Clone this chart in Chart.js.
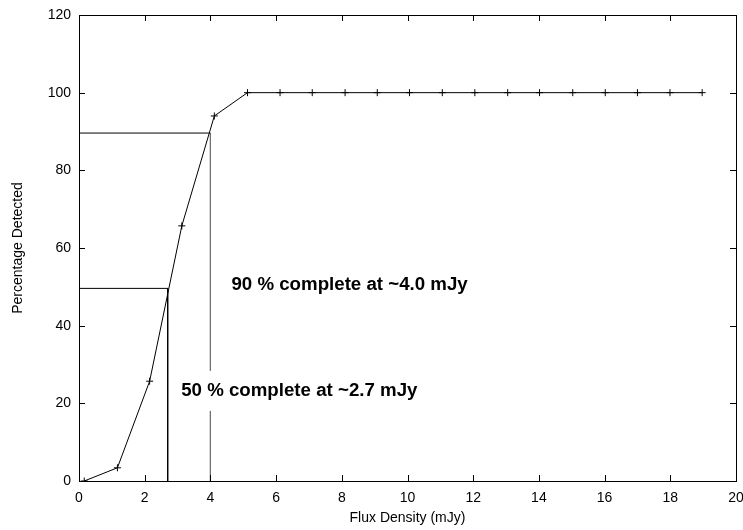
<!DOCTYPE html>
<html><head><meta charset="utf-8">
<script src="https://cdn.jsdelivr.net/npm/chart.js@4/dist/chart.umd.min.js"></script>
<style>html,body{margin:0;padding:0;background:#fff;overflow:hidden}</style>
</head><body>
<canvas id="c" width="743" height="530"></canvas>
<script>
// ---- data ----
const fluxDensity = [0.16, 1.17, 2.15, 3.13, 4.12, 5.13, 6.12, 7.10, 8.10, 9.08, 10.06, 11.06, 12.05, 13.05, 14.02, 15.03, 16.02, 17.00, 17.99, 18.97];
const percentDetected = [0, 3.4, 25.7, 65.7, 94.0, 100, 100, 100, 100, 100, 100, 100, 100, 100, 100, 100, 100, 100, 100, 100];
const xTickValues = [0, 2, 4, 6, 8, 10, 12, 14, 16, 18, 20];
const yTickValues = [0, 20, 40, 60, 80, 100, 120];
// completeness guide lines
const guide90X = [0, 4.0];
const guide90Y = [89.6, 89.6];
const drop90X = [4.0, 4.0];
const drop90Y = [89.6, 0];
const guide50X = [0, 2.7];
const guide50Y = [49.6, 49.6];
const drop50X = [2.7, 2.7];
const drop50Y = [49.6, 0];
const annotationTexts = ['90 % complete at ~4.0 mJy', '50 % complete at ~2.7 mJy'];
const annotationX = [4.64, 3.11];
const annotationY = [50.4, 23.2];

const pts = (xs, ys) => xs.map((x, i) => ({x, y: ys[i]}));
const FONT = 'Liberation Sans, Arial, Helvetica, sans-serif';

const framePlugin = {
  id: 'frame',
  afterDatasetsDraw(chart) {
    const {ctx, chartArea: a, scales: {x, y}} = chart;
    ctx.save();
    // annotations
    ctx.font = 'bold 18.7px ' + FONT;
    ctx.textBaseline = 'middle';
    ctx.textAlign = 'left';
    annotationTexts.forEach((t, i) => {
      const px = x.getPixelForValue(annotationX[i]);
      const py = y.getPixelForValue(annotationY[i]);
      const w = ctx.measureText(t).width;
      if (i === 1) { ctx.fillStyle = '#fff'; ctx.fillRect(px - 2, py - 20, w + 4, 40); }
      ctx.fillStyle = '#000';
      ctx.fillText(t, px, py);
    });
    // frame
    ctx.strokeStyle = '#000';
    ctx.lineWidth = 1;
    ctx.strokeRect(Math.round(a.left) + 0.5, Math.round(a.top) + 0.5, Math.round(a.right - a.left), Math.round(a.bottom - a.top));
    // inward ticks on all four sides
    const L = 6;
    ctx.beginPath();
    xTickValues.forEach(v => {
      const p = Math.round(x.getPixelForValue(v)) + 0.5;
      ctx.moveTo(p, a.bottom); ctx.lineTo(p, a.bottom - L);
      ctx.moveTo(p, a.top); ctx.lineTo(p, a.top + L);
    });
    yTickValues.forEach(v => {
      const p = Math.round(y.getPixelForValue(v)) + 0.5;
      ctx.moveTo(a.left, p); ctx.lineTo(a.left + L, p);
      ctx.moveTo(a.right, p); ctx.lineTo(a.right - L, p);
    });
    ctx.stroke();
    ctx.restore();
  }
};

new Chart(document.getElementById('c'), {
  type: 'scatter',
  data: {
    datasets: [
      {data: pts(guide90X, guide90Y), showLine: true, borderColor: '#000', borderWidth: 1, pointRadius: 0},
      {data: pts(drop90X, drop90Y), showLine: true, borderColor: '#707070', borderWidth: 1, pointRadius: 0},
      {data: pts(guide50X, guide50Y), showLine: true, borderColor: '#000', borderWidth: 1, pointRadius: 0},
      {data: pts(drop50X, drop50Y), showLine: true, borderColor: '#000', borderWidth: 1, pointRadius: 0},
      {data: pts(fluxDensity, percentDetected), showLine: true, borderColor: '#000', borderWidth: 1,
       pointStyle: 'cross', pointRadius: 3.5, pointBorderWidth: 1, pointBorderColor: '#000', tension: 0}
    ]
  },
  options: {
    responsive: false,
    animation: false,
    events: [],
    layout: {padding: {top: 15, right: 7, left: 0, bottom: 0}},
    plugins: {legend: {display: false}, tooltip: {enabled: false}},
    scales: {
      x: {
        type: 'linear', min: 0, max: 20,
        afterBuildTicks: s => { s.ticks = xTickValues.map(v => ({value: v})); },
        afterFit: s => { s.height = 49; s.paddingLeft = 0; s.paddingRight = 0; },
        grid: {display: false, drawTicks: false},
        border: {display: false},
        ticks: {color: '#000', font: {family: FONT, size: 14}, padding: 9, maxRotation: 0, autoSkip: false},
        title: {display: true, text: 'Flux Density (mJy)', color: '#000', font: {family: FONT, size: 14}, padding: {top: 0, bottom: 3}}
      },
      y: {
        type: 'linear', min: 0, max: 120,
        afterBuildTicks: s => { s.ticks = yTickValues.map(v => ({value: v})); },
        afterFit: s => { s.width = 79; s.paddingTop = 0; s.paddingBottom = 0; },
        grid: {display: false, drawTicks: false},
        border: {display: false},
        ticks: {color: '#000', font: {family: FONT, size: 14}, padding: 8},
        title: {display: true, text: 'Percentage Detected', color: '#000', font: {family: FONT, size: 14}, padding: {top: 10, bottom: 0}}
      }
    }
  },
  plugins: [framePlugin]
});
</script>
</body></html>
